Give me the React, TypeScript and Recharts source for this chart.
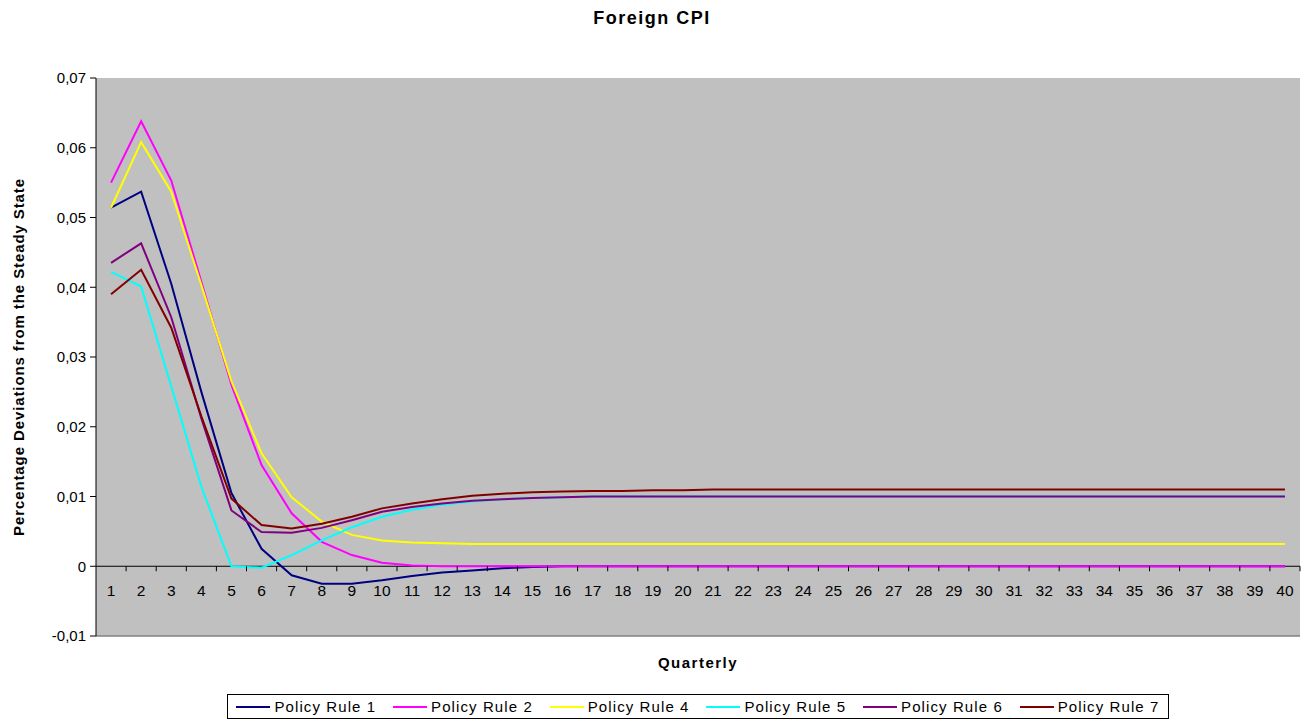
import React from 'react'
import { LineChart, Line, XAxis, YAxis, CartesianGrid, ReferenceLine } from 'recharts'

const quarters = Array.from({ length: 40 }, (_, i) => String(i + 1))

const rule1 = [
  0.0514, 0.0537, 0.0405, 0.025, 0.0105, 0.0025, -0.0013, -0.0025, -0.0025, -0.002,
  -0.0014, -0.0009, -0.0006, -0.0003, -0.0001, 0, 0, 0, 0, 0,
  0, 0, 0, 0, 0, 0, 0, 0, 0, 0,
  0, 0, 0, 0, 0, 0, 0, 0, 0, 0,
]
const rule2 = [
  0.055, 0.0638, 0.0553, 0.0408, 0.026, 0.0145, 0.0076, 0.0035, 0.0016, 0.0005,
  0.0001, 0, 0, 0, 0, 0, 0, 0, 0, 0,
  0, 0, 0, 0, 0, 0, 0, 0, 0, 0,
  0, 0, 0, 0, 0, 0, 0, 0, 0, 0,
]
const rule4 = [
  0.0514, 0.0608, 0.0537, 0.0403, 0.0265, 0.0162, 0.0099, 0.0064, 0.0045, 0.0037,
  0.0034, 0.0033, 0.0032, 0.0032, 0.0032, 0.0032, 0.0032, 0.0032, 0.0032, 0.0032,
  0.0032, 0.0032, 0.0032, 0.0032, 0.0032, 0.0032, 0.0032, 0.0032, 0.0032, 0.0032,
  0.0032, 0.0032, 0.0032, 0.0032, 0.0032, 0.0032, 0.0032, 0.0032, 0.0032, 0.0032,
]
const rule5 = [
  0.0422, 0.0401, 0.0258, 0.0114, 0, -0.0002, 0.0016, 0.0037, 0.0056, 0.0071,
  0.0081, 0.0088, 0.0093, 0.0096, 0.0098, 0.0099, 0.01, 0.01, 0.01, 0.01,
  0.01, 0.01, 0.01, 0.01, 0.01, 0.01, 0.01, 0.01, 0.01, 0.01,
  0.01, 0.01, 0.01, 0.01, 0.01, 0.01, 0.01, 0.01, 0.01, 0.01,
]
const rule6 = [
  0.0435, 0.0463, 0.0357, 0.0212, 0.008, 0.0049, 0.0048, 0.0055, 0.0066, 0.0078,
  0.0085, 0.009, 0.0094, 0.0096, 0.0098, 0.0099, 0.01, 0.01, 0.01, 0.01,
  0.01, 0.01, 0.01, 0.01, 0.01, 0.01, 0.01, 0.01, 0.01, 0.01,
  0.01, 0.01, 0.01, 0.01, 0.01, 0.01, 0.01, 0.01, 0.01, 0.01,
]
const rule7 = [
  0.039, 0.0425, 0.0342, 0.0215, 0.0097, 0.0059, 0.0054, 0.0061, 0.0071, 0.0083,
  0.009, 0.0096, 0.0101, 0.0104, 0.0106, 0.0107, 0.0108, 0.0108, 0.0109, 0.0109,
  0.011, 0.011, 0.011, 0.011, 0.011, 0.011, 0.011, 0.011, 0.011, 0.011,
  0.011, 0.011, 0.011, 0.011, 0.011, 0.011, 0.011, 0.011, 0.011, 0.011,
]
const yTicks = [-0.01, 0, 0.01, 0.02, 0.03, 0.04, 0.05, 0.06, 0.07]

const series = [
  { key: 'r1', name: 'Policy Rule 1', color: '#000080', values: rule1 },
  { key: 'r2', name: 'Policy Rule 2', color: '#FF00FF', values: rule2 },
  { key: 'r4', name: 'Policy Rule 4', color: '#FFFF00', values: rule4 },
  { key: 'r5', name: 'Policy Rule 5', color: '#00FFFF', values: rule5 },
  { key: 'r6', name: 'Policy Rule 6', color: '#800080', values: rule6 },
  { key: 'r7', name: 'Policy Rule 7', color: '#800000', values: rule7 },
]

const data = quarters.map((q, i) => {
  const row: any = { q }
  series.forEach((s) => (row[s.key] = s.values[i]))
  return row
})

const W = 1312
const H = 722
const PLOT_LEFT = 96
const PLOT_RIGHT = 1300
const PLOT_TOP = 78
const PLOT_BOTTOM = 636
const Y_MIN = -0.01
const Y_MAX = 0.07
const FONT = '"Liberation Sans", Arial, sans-serif'

// excel puts the category axis on the zero line, so shift the ticks up from the plot bottom
const zeroOffset = ((PLOT_BOTTOM - PLOT_TOP) * (0 - Y_MIN)) / (Y_MAX - Y_MIN)
const band = (PLOT_RIGHT - PLOT_LEFT) / quarters.length

const QuarterTick = ({ x, y, payload }: any) => {
  const zy = y - zeroOffset
  return (
    <g>
      <line x1={x + band / 2} x2={x + band / 2} y1={zy} y2={zy + 5} stroke="#000" />
      <text x={x} y={zy + 30} textAnchor="middle" fontSize={15.5} fontFamily={FONT} fill="#000">
        {payload.value}
      </text>
    </g>
  )
}

const fmt = (v: number) => (v === 0 ? '0' : v.toFixed(2).replace('.', ','))

export default function App() {
  return (
    <div
      style={{
        position: 'absolute',
        top: 0,
        left: 0,
        width: W,
        height: H,
        overflow: 'hidden',
        background: '#fff',
        fontFamily: FONT,
      }}
    >
      <div
        style={{
          position: 'absolute',
          top: 8,
          left: 0,
          width: W - 8,
          textAlign: 'center',
          fontWeight: 'bold',
          fontSize: 18,
          letterSpacing: 1.5,
        }}
      >
        Foreign CPI
      </div>
      <div
        style={{
          position: 'absolute',
          left: 18,
          top: 357,
          transform: 'translate(-50%, -50%) rotate(-90deg)',
          whiteSpace: 'nowrap',
          fontWeight: 'bold',
          fontSize: 15,
          letterSpacing: 0.9,
        }}
      >
        Percentage Deviations from the Steady State
      </div>
      <div
        style={{
          position: 'absolute',
          top: 654,
          left: PLOT_LEFT,
          width: PLOT_RIGHT - PLOT_LEFT,
          textAlign: 'center',
          fontWeight: 'bold',
          fontSize: 15,
          letterSpacing: 1.5,
        }}
      >
        Quarterly
      </div>
      <LineChart
        width={W}
        height={H}
        data={data}
        margin={{ top: PLOT_TOP, right: W - PLOT_RIGHT, bottom: H - PLOT_BOTTOM - 20, left: PLOT_LEFT - 60 }}
      >
        <CartesianGrid fill="#C0C0C0" horizontal={false} vertical={false} />
        <XAxis
          dataKey="q"
          scale="band"
          interval={0}
          height={20}
          tickSize={0}
          tickMargin={0}
          tickLine={false}
          axisLine={{ stroke: '#808080', strokeWidth: 1.5 }}
          tick={<QuarterTick />}
        />
        <XAxis
          xAxisId="top"
          dataKey="q"
          orientation="top"
          height={0}
          tick={false}
          tickLine={false}
          axisLine={{ stroke: '#808080', strokeWidth: 1.5 }}
        />
        <YAxis
          domain={[Y_MIN, Y_MAX]}
          ticks={yTicks}
          tickFormatter={fmt}
          width={60}
          tickSize={6}
          tickMargin={4}
          interval={0}
          tick={{ fill: '#000', fontSize: 15, fontFamily: FONT }}
          axisLine={{ stroke: '#000' }}
          tickLine={{ stroke: '#000' }}
        />
        <YAxis
          yAxisId="right"
          orientation="right"
          domain={[Y_MIN, Y_MAX]}
          width={0}
          tick={false}
          tickLine={false}
          axisLine={{ stroke: '#808080', strokeWidth: 1.5 }}
        />
        <ReferenceLine y={0} stroke="#000" />
        {series.map((s) => (
          <Line
            key={s.key}
            type="linear"
            dataKey={s.key}
            name={s.name}
            stroke={s.color}
            strokeWidth={2}
            dot={false}
            activeDot={false}
            isAnimationActive={false}
          />
        ))}
      </LineChart>
      <div
        style={{
          position: 'absolute',
          left: 227,
          top: 694,
          width: 940,
          height: 23,
          border: '1px solid #000',
          display: 'flex',
          alignItems: 'center',
          justifyContent: 'space-around',
          fontSize: 15,
          letterSpacing: 1.1,
          background: '#fff',
        }}
      >
        {series.map((s) => (
          <span key={s.key} style={{ display: 'flex', alignItems: 'center' }}>
            <span style={{ display: 'inline-block', width: 34, height: 2, background: s.color, marginRight: 4 }} />
            {s.name}
          </span>
        ))}
      </div>
    </div>
  )
}
